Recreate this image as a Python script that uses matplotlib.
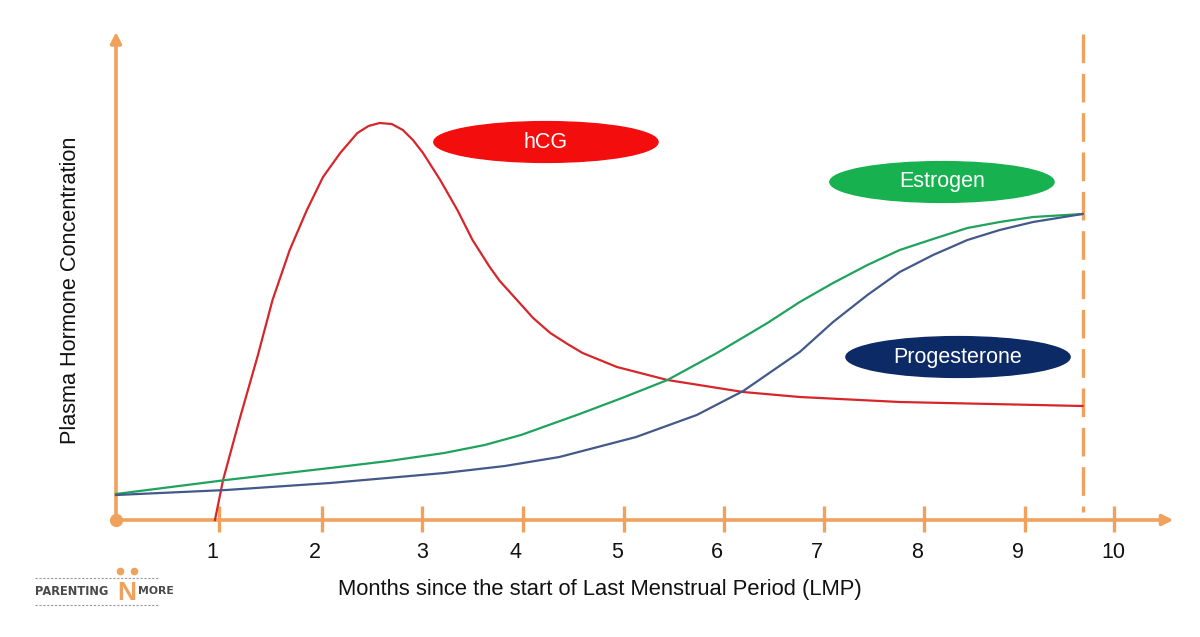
"""Pregnancy hormone levels chart (hCG, estrogen, progesterone)."""

import matplotlib.pyplot as plt
from matplotlib.patches import Ellipse

# Data (x: months since LMP, y: relative level)
hcg_months = [0.98, 1.06, 1.23, 1.40, 1.55, 1.72, 1.89, 2.05, 2.22, 2.39, 2.50,
              2.61, 2.73, 2.84, 2.94, 3.04, 3.21, 3.38, 3.53, 3.70, 3.80, 3.97,
              4.13, 4.30, 4.47, 4.62, 4.96, 5.46, 6.21, 6.77, 7.76, 9.57]
hcg_level = [0, 10, 25.75, 40.75, 55, 67.5, 77.5, 85.75, 91.75, 96.75, 98.5,
             99.25, 99.0, 97.5, 95.0, 91.75, 85, 77.5, 70, 63.25, 59.75, 55,
             50.5, 46.75, 44.0, 41.75, 38.25, 35, 32, 30.75, 29.5, 28.5]

estrogen_months = [0.00, 1.09, 2.12, 2.70, 3.25, 3.65, 4.01, 4.59, 5.01, 5.46,
                   5.95, 6.45, 6.77, 7.10, 7.44, 7.76, 8.09, 8.43, 8.75, 9.08,
                   9.57]
estrogen_level = [6.5, 10.0, 13.0, 14.75, 16.75, 18.75, 21.25, 26.5, 30.5, 35.0,
                  41.75, 49.25, 54.5, 59.25, 63.75, 67.5, 70.25, 73.0, 74.5,
                  75.75, 76.5]

progesterone_months = [0.00, 1.09, 2.12, 3.25, 3.85, 4.39, 5.15, 5.75, 6.21,
                       6.77, 7.10, 7.44, 7.76, 8.09, 8.43, 8.75, 9.08, 9.57]
progesterone_level = [6.25, 7.5, 9.25, 11.75, 13.5, 15.75, 20.75, 26.25, 32.25,
                      42.0, 49.5, 56.25, 62.0, 66.25, 70.0, 72.5, 74.5, 76.5]

tick_labels = ["1", "2", "3", "4", "5", "6", "7", "8", "9", "10"]
tick_months = [1.02, 2.04, 3.03, 4.03, 5.03, 6.02, 7.01, 8.0, 9.0, 9.88]
term_month = 9.57

ORANGE = "#F0A25C"
FONT = "Liberation Sans"

fig = plt.figure(figsize=(12, 6.37), dpi=100)
ax = fig.add_axes([0, 0, 1, 1])
ax.set_xlim(-1.1485, 10.733)
ax.set_ylim(-29.25, 130)
ax.axis("off")

# axes with arrows
ax.annotate("", xy=(10.47, 0), xytext=(0, 0),
            arrowprops=dict(arrowstyle="-|>", color=ORANGE, lw=2.6,
                            mutation_scale=16, shrinkA=0, shrinkB=0))
ax.annotate("", xy=(0, 122), xytext=(0, 0),
            arrowprops=dict(arrowstyle="-|>", color=ORANGE, lw=2.6,
                            mutation_scale=16, shrinkA=0, shrinkB=0))
ax.plot([0], [0], "o", color=ORANGE, ms=8.5, zorder=5)

for pos, lab in zip(tick_months, tick_labels):
    ax.plot([pos, pos], [3.5, -3], color=ORANGE, lw=2.4, solid_capstyle="butt")
    off = 0 if lab in ("3", "10") else -0.07
    ax.text(pos + off, -8.25, lab, ha="center", va="center", fontsize=15.5,
            family=FONT, color="#111111")

# term line (drawn top-down so the dash pattern starts at the top)
ax.plot([term_month, term_month], [121.5, 2], color=ORANGE, lw=2.4,
        dashes=(8.6, 3.2))

# hormone curves
ax.plot(hcg_months, hcg_level, color="#D7262B", lw=1.6, zorder=3)
ax.plot(estrogen_months, estrogen_level, color="#1FA35C", lw=1.6, zorder=3)
ax.plot(progesterone_months, progesterone_level, color="#42598A", lw=1.6,
        zorder=3)

# labels in ellipses
bubbles = [("hCG", 4.257, 94.5, "#F40D0D"),
           ("Estrogen", 8.178, 84.5, "#17B14F"),
           ("Progesterone", 8.337, 40.75, "#0C2A66")]
for name, cx, cy, col in bubbles:
    ax.add_patch(Ellipse((cx, cy), 2.22, 10.2, color=col, zorder=4))
    ax.text(cx, cy, name, ha="center", va="center", color="white",
            fontsize=15.5, family=FONT, zorder=5)

ax.text(4.792, -17.5, "Months since the start of Last Menstrual Period (LMP)",
        ha="center", va="center", fontsize=15.8, family=FONT, color="#111111")
ax.text(-0.455, 57.5, "Plasma Hormone Concentration", rotation=90,
        ha="center", va="center", fontsize=15.6, family=FONT, color="#111111")

# logo
ax.plot([-0.80, 0.43], [-14.5, -14.5], color="#999999", lw=0.8, ls=(0, (2, 1.5)))
ax.plot([-0.80, 0.43], [-21.2, -21.2], color="#999999", lw=0.8, ls=(0, (2, 1.5)))
ax.text(-0.80, -17.8, "PARENTING", ha="left", va="center", fontsize=8.3,
        family="DejaVu Sans", color="#4a4a4a", fontweight="bold")
ax.text(0.11, -18.3, "N", ha="center", va="center", fontsize=19,
        family=FONT, color=ORANGE, fontweight="bold")
ax.plot([0.04, 0.18], [-12.8, -12.8], "o", color=ORANGE, ms=4.5)
ax.text(0.22, -17.8, "MORE", ha="left", va="center", fontsize=7.8,
        family="DejaVu Sans", color="#4a4a4a", fontweight="bold")

plt.savefig("out.png", dpi=100)
plt.close()
